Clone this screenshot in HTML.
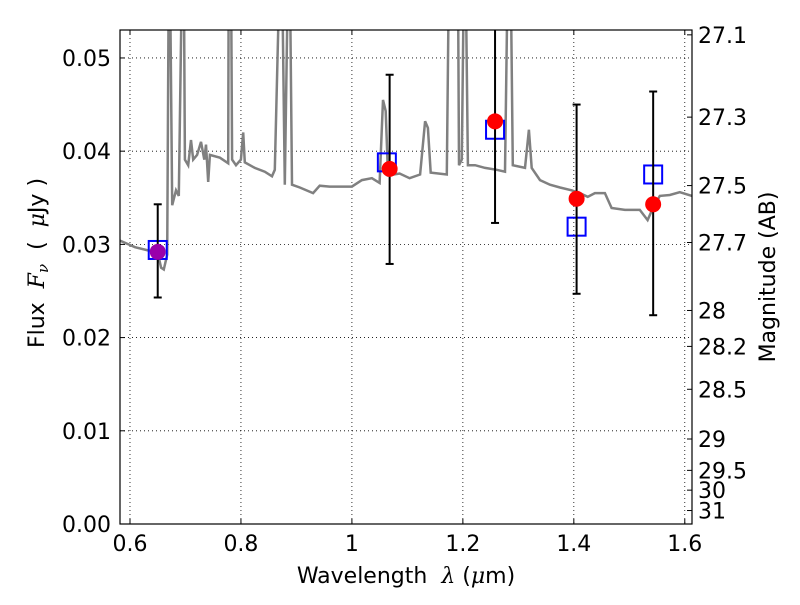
<!DOCTYPE html>
<html><head><meta charset="utf-8"><style>
body{margin:0;background:#fff}
svg{font-family:"DejaVu Sans","Liberation Sans",sans-serif}
</style></head><body>
<svg id="c" width="800" height="600"></svg>
<script>
const specW=[0.582,0.609,0.636,0.650,0.656,0.661,0.667,0.670,0.672,0.676,0.683,0.688,0.694,0.697,0.699,0.705,0.710,0.714,0.721,0.728,0.734,0.737,0.741,0.744,0.762,0.777,0.778,0.782,0.784,0.791,0.800,0.804,0.807,0.825,0.843,0.856,0.861,0.870,0.874,0.879,0.885,0.888,0.892,0.906,0.930,0.942,0.960,0.978,1.000,1.018,1.036,1.050,1.056,1.061,1.065,1.086,1.104,1.123,1.132,1.137,1.142,1.171,1.175,1.191,1.193,1.198,1.202,1.205,1.209,1.222,1.240,1.261,1.276,1.281,1.286,1.290,1.312,1.319,1.324,1.339,1.357,1.375,1.396,1.411,1.425,1.438,1.456,1.468,1.492,1.519,1.533,1.541,1.555,1.573,1.591,1.613];
const specF=[0.0304,0.0297,0.0293,0.0291,0.0275,0.0273,0.0289,0.06,0.06,0.0342,0.0358,0.0352,0.06,0.06,0.0391,0.0385,0.0412,0.0391,0.0396,0.0410,0.0391,0.0407,0.0367,0.0396,0.0393,0.0387,0.06,0.06,0.0391,0.0385,0.0391,0.0420,0.0388,0.0382,0.0378,0.0373,0.0380,0.06,0.06,0.0364,0.06,0.06,0.0364,0.0361,0.0355,0.0363,0.0362,0.0362,0.0362,0.0369,0.0371,0.0366,0.0455,0.0443,0.0374,0.0376,0.0371,0.0375,0.0432,0.0425,0.0377,0.0375,0.06,0.06,0.0385,0.0391,0.06,0.06,0.0385,0.0385,0.0382,0.0380,0.0378,0.06,0.06,0.0385,0.0382,0.0423,0.0382,0.0369,0.0364,0.0361,0.0358,0.0355,0.0351,0.0355,0.0355,0.0339,0.0337,0.0337,0.0326,0.0337,0.0352,0.0353,0.0356,0.0352];
const obsW=[0.650,1.068,1.258,1.405,1.543];
const obsF=[0.0292,0.0381,0.0432,0.0349,0.0343];
const obsLo=[0.0243,0.0279,0.0323,0.0247,0.0224];
const obsHi=[0.0343,0.0482,0.0541,0.0450,0.0464];
const obsColor=['#9900aa','red','red','red','red'];
const modW=[0.650,1.063,1.258,1.405,1.543];
const modF=[0.0294,0.0388,0.0423,0.0319,0.0375];
const xTicks=[0.6,0.8,1.0,1.2,1.4,1.6];
const xTickLabels=['0.6','0.8','1','1.2','1.4','1.6'];
const yTicks=[0,0.01,0.02,0.03,0.04,0.05];
const yTickLabels=['0.00','0.01','0.02','0.03','0.04','0.05'];
const magTicks=[27.1,27.3,27.5,27.7,28,28.2,28.5,29,29.5,30,31];

const L=120,R=692,T=30,B=524;
const X0=0.582,X1=1.613,Y0=0,Y1=0.053;
const sx=w=>L+(w-X0)/(X1-X0)*(R-L);
const sy=f=>B-(f-Y0)/(Y1-Y0)*(B-T);
const NS='http://www.w3.org/2000/svg';
const svg=document.getElementById('c');
function mk(tag,attrs,parent){const e=document.createElementNS(NS,tag);for(const k in attrs)e.setAttribute(k,attrs[k]);(parent||svg).appendChild(e);return e;}

const defs=mk('defs',{});
const cp=mk('clipPath',{id:'clip'},defs);
mk('rect',{x:L,y:T,width:R-L,height:B-T},cp);

xTicks.forEach((t,i)=>{
  const g=mk('line',{x1:sx(t),x2:sx(t),y1:T,y2:B,stroke:'#000','stroke-width':0.8,'stroke-dasharray':'1,3'});
  
  
  const tk=mk('line',{x1:sx(t),x2:sx(t),y1:B,y2:B-5,stroke:'#000'});
  
  
  mk('line',{x1:sx(t),x2:sx(t),y1:T,y2:T+5,stroke:'#000'});
  const tx=mk('text',{x:sx(t),y:B+27,'text-anchor':'middle','font-size':22});
  tx.textContent=xTickLabels[i];
  
  
});
yTicks.forEach((t,i)=>{
  const g=mk('line',{x1:L,x2:R,y1:sy(t),y2:sy(t),stroke:'#000','stroke-width':0.8,'stroke-dasharray':'1,3'});
  
  
  mk('line',{x1:L,x2:L+5,y1:sy(t),y2:sy(t),stroke:'#000'});
  const tx=mk('text',{x:L-9,y:sy(t)+8,'text-anchor':'end','font-size':22});
  tx.textContent=yTickLabels[i];
  
  
});
magTicks.forEach(m=>{
  const f=Math.pow(10,(23.9-m)/2.5);const y=sy(f);
  mk('line',{x1:R,x2:R-5,y1:y,y2:y,stroke:'#000'});
  const tx=mk('text',{x:R+6,y:y+8,'font-size':22});
  tx.textContent=String(m);
  
  
});

const pts=specW.map((w,i)=>sx(w).toFixed(1)+','+sy(specF[i]).toFixed(1)).join(' ');
const sp=mk('polyline',{points:pts,fill:'none',stroke:'#808080','stroke-width':2.5,'clip-path':'url(#clip)'});



modW.forEach((w,i)=>{
  const s=mk('rect',{x:sx(w)-9,y:sy(modF[i])-9,width:18,height:18,fill:'none',stroke:'#0000ff','stroke-width':2,'clip-path':'url(#clip)'});
  
  
});
obsW.forEach((w,i)=>{
  const g=mk('g',{'clip-path':'url(#clip)'});
  
  
  const x=sx(w);
  mk('line',{x1:x,x2:x,y1:sy(obsLo[i]),y2:sy(obsHi[i]),stroke:'#000','stroke-width':2},g);
  mk('line',{x1:x-4,x2:x+4,y1:sy(obsLo[i]),y2:sy(obsLo[i]),stroke:'#000','stroke-width':2},g);
  mk('line',{x1:x-4,x2:x+4,y1:sy(obsHi[i]),y2:sy(obsHi[i]),stroke:'#000','stroke-width':2},g);
});
obsW.forEach((w,i)=>{
  const c=mk('circle',{cx:sx(w),cy:sy(obsF[i]),r:8,fill:obsColor[i]});
  
  
});

const fr=mk('rect',{x:L,y:T,width:R-L,height:B-T,fill:'none',stroke:'#000','stroke-width':1.2});



const xt=mk('text',{x:406,y:583,'text-anchor':'middle','font-size':22});
xt.innerHTML='Wavelength\u00a0\u00a0<tspan font-family="DejaVu Serif,serif" font-style="italic">λ</tspan>\u00a0(<tspan font-family="DejaVu Serif,serif" font-style="italic">μ</tspan>m)';


const yt=mk('text',{x:0,y:0,'text-anchor':'middle','font-size':22,transform:'translate(44,263) rotate(-90)'});
yt.innerHTML='Flux\u00a0\u00a0<tspan font-family="DejaVu Serif,serif" font-style="italic">F</tspan><tspan font-family="DejaVu Serif,serif" font-style="italic" font-size="15" dy="4">ν</tspan><tspan dy="-4">\u00a0\u00a0(\u00a0\u00a0</tspan><tspan font-family="DejaVu Serif,serif" font-style="italic">μ</tspan>Jy\u00a0)';


const rt=mk('text',{x:0,y:0,'text-anchor':'middle','font-size':22,transform:'translate(775,277) rotate(-90)'});
rt.textContent='Magnitude (AB)';


</script>
</body></html>
